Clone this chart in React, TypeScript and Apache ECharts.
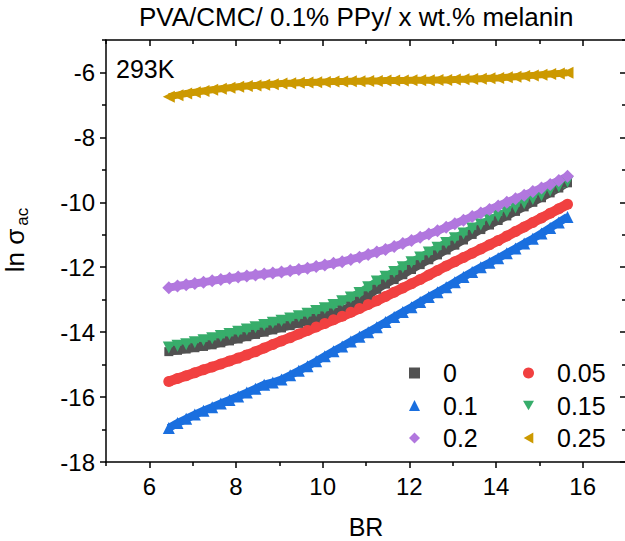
import React, { useEffect, useRef } from "react";
import * as echarts from "echarts";

const BR = [
  6.45, 6.65, 6.85, 7.05, 7.25, 7.45, 7.65, 7.85, 8.05, 8.25, 8.45, 8.65, 8.85, 9.05, 9.25, 9.45,
  9.65, 9.85, 10.05, 10.25, 10.45, 10.65, 10.85, 11.05, 11.25, 11.45, 11.65, 11.85, 12.05, 12.25,
  12.45, 12.65, 12.85, 13.05, 13.25, 13.45, 13.65, 13.85, 14.05, 14.25, 14.45, 14.65, 14.85, 15.05,
  15.25, 15.45, 15.65,
];

const LN_0 = [
  -14.6, -14.56, -14.52, -14.48, -14.44, -14.39, -14.33, -14.27, -14.21, -14.14, -14.07, -14.0,
  -13.93, -13.87, -13.8, -13.73, -13.66, -13.58, -13.5, -13.41, -13.32, -13.2, -13.05, -12.88,
  -12.68, -12.52, -12.38, -12.23, -12.07, -11.92, -11.77, -11.62, -11.47, -11.32, -11.16, -10.99,
  -10.84, -10.7, -10.56, -10.42, -10.28, -10.14, -10.0, -9.86, -9.71, -9.56, -9.4,
];
const LN_005 = [
  -15.52, -15.43, -15.34, -15.25, -15.16, -15.07, -14.98, -14.89, -14.8, -14.7, -14.6, -14.49,
  -14.38, -14.27, -14.17, -14.06, -13.95, -13.84, -13.73, -13.62, -13.51, -13.39, -13.27, -13.15,
  -13.03, -12.9, -12.77, -12.64, -12.51, -12.38, -12.24, -12.1, -11.96, -11.83, -11.7, -11.57,
  -11.44, -11.31, -11.18, -11.04, -10.9, -10.76, -10.62, -10.48, -10.34, -10.2, -10.06,
];
const LN_01 = [
  -16.95, -16.8, -16.67, -16.54, -16.42, -16.31, -16.2, -16.09, -15.98, -15.86, -15.74, -15.62,
  -15.55, -15.46, -15.33, -15.19, -15.05, -14.9, -14.74, -14.59, -14.44, -14.29, -14.14, -14.0,
  -13.85, -13.69, -13.53, -13.38, -13.23, -13.07, -12.92, -12.77, -12.62, -12.46, -12.3, -12.15,
  -12.0, -11.86, -11.72, -11.57, -11.42, -11.27, -11.12, -10.96, -10.79, -10.62, -10.45,
];
const LN_015 = [
  -14.47, -14.42, -14.37, -14.31, -14.25, -14.19, -14.12, -14.06, -13.99, -13.92, -13.85, -13.78,
  -13.71, -13.65, -13.58, -13.51, -13.43, -13.35, -13.26, -13.16, -13.05, -12.93, -12.79, -12.62,
  -12.44, -12.29, -12.15, -12.0, -11.85, -11.7, -11.55, -11.4, -11.25, -11.11, -10.96, -10.81,
  -10.68, -10.55, -10.42, -10.29, -10.16, -10.03, -9.9, -9.78, -9.64, -9.51, -9.37,
];
const LN_02 = [
  -12.63, -12.58, -12.54, -12.5, -12.46, -12.42, -12.38, -12.34, -12.3, -12.27, -12.24, -12.21,
  -12.18, -12.15, -12.11, -12.07, -12.03, -11.98, -11.93, -11.88, -11.83, -11.76, -11.69, -11.61,
  -11.53, -11.45, -11.36, -11.27, -11.18, -11.08, -10.98, -10.88, -10.77, -10.66, -10.55, -10.44,
  -10.33, -10.22, -10.11, -10.0, -9.89, -9.78, -9.67, -9.56, -9.45, -9.33, -9.2,
];
const LN_025 = [
  -6.75, -6.7, -6.65, -6.61, -6.57, -6.53, -6.5, -6.47, -6.44, -6.42, -6.4, -6.38, -6.36, -6.34,
  -6.33, -6.32, -6.31, -6.3, -6.29, -6.28, -6.28, -6.27, -6.27, -6.26, -6.26, -6.25, -6.25, -6.25,
  -6.24, -6.24, -6.24, -6.23, -6.23, -6.22, -6.21, -6.2, -6.19, -6.18, -6.17, -6.15, -6.13, -6.11,
  -6.09, -6.07, -6.05, -6.03, -6.01,
];

const SERIES_NAMES = ["0", "0.05", "0.1", "0.15", "0.2", "0.25"];
const X_MAJOR = [6, 8, 10, 12, 14, 16];
const X_MINOR = [5, 7, 9, 11, 13, 15, 17];
const Y_MAJOR = [-18, -16, -14, -12, -10, -8, -6];
const Y_MINOR = [-17, -15, -13, -11, -9, -7, -5];

const FONT = "'Liberation Sans', Arial, sans-serif";

const DOWN_TRI = "path://M0,0L10,0L5,8.7Z";
const LEFT_TRI = "path://M8.7,0L8.7,10L0,5Z";

export default function App() {
  const ref = useRef<HTMLDivElement>(null);

  useEffect(() => {
    document.body.style.margin = "0";
    if (!ref.current) return;
    const chart = echarts.init(ref.current, null, { renderer: "svg" });

    const axisLine = { color: "#000", width: 1.5 };
    const xBase = { type: "value", min: 5, max: 17, interval: 1, gridIndex: 0, splitLine: { show: false } };
    const yBase = { type: "value", min: -18, max: -5, interval: 1, gridIndex: 0, splitLine: { show: false } };

    const pts = (ys: number[]) => BR.map((x, i) => [x, ys[i]]);

    const specs = [
      { data: LN_0, color: "#515151", symbol: "rect", size: 9, rotate: 0, icon: "rect", lw: 8 },
      { data: LN_005, color: "#F14040", symbol: "circle", size: 11, rotate: 0, icon: "circle", lw: 10 },
      { data: LN_01, color: "#1A6FDF", symbol: "triangle", size: 12, rotate: 0, icon: "triangle", lw: 8 },
      { data: LN_015, color: "#37AD6B", symbol: "triangle", size: 12, rotate: 180, icon: DOWN_TRI, lw: 8 },
      { data: LN_02, color: "#B177DE", symbol: "diamond", size: 13, rotate: 0, icon: "diamond", lw: 8 },
      { data: LN_025, color: "#CC9900", symbol: "triangle", size: 12, rotate: 90, icon: LEFT_TRI, lw: 7 },
    ];

    const legendText = { fontSize: 25, color: "#000", fontFamily: FONT, padding: [0, 0, 0, 18], lineHeight: 28 };
    const legendBase = {
      orient: "vertical",
      top: 359,
      padding: 0,
      itemWidth: 11,
      itemHeight: 11,
      itemGap: 4.5,
      textStyle: legendText,
    };
    const legendItem = (i: number) => ({ name: SERIES_NAMES[i], icon: specs[i].icon });

    chart.setOption({
      animation: false,
      textStyle: { fontFamily: FONT },
      title: {
        text: "PVA/CMC/ 0.1% PPy/ x wt.% melanin",
        left: 139,
        top: 4,
        padding: 0,
        textStyle: { fontSize: 26, fontWeight: "normal", color: "#000", fontFamily: FONT },
      },
      grid: { left: 106, top: 40, width: 520, height: 422, containLabel: false, outerBoundsMode: "none" },
      xAxis: [
        {
          ...xBase,
          position: "bottom",
          axisLine: { show: true, onZero: false, lineStyle: axisLine },
          axisTick: { show: true, inside: false, length: 6, customValues: X_MAJOR, lineStyle: axisLine },
          axisLabel: { customValues: X_MAJOR, fontSize: 24, color: "#000", margin: 12, fontFamily: FONT },
          name: "BR",
          nameLocation: "middle",
          nameGap: 53,
          nameTextStyle: { fontSize: 25, lineHeight: 24, color: "#000", fontFamily: FONT },
        },
        {
          ...xBase,
          position: "bottom",
          axisLine: { show: false, onZero: false },
          axisTick: { show: true, inside: false, length: 4, customValues: X_MINOR, lineStyle: axisLine },
          axisLabel: { show: false },
        },
        {
          ...xBase,
          position: "top",
          axisLine: { show: true, onZero: false, lineStyle: axisLine },
          axisTick: { show: true, inside: true, length: 6, customValues: X_MAJOR, lineStyle: axisLine },
          axisLabel: { show: false },
        },
        {
          ...xBase,
          position: "top",
          axisLine: { show: false, onZero: false },
          axisTick: { show: true, inside: true, length: 4, customValues: X_MINOR, lineStyle: axisLine },
          axisLabel: { show: false },
        },
      ],
      yAxis: [
        {
          ...yBase,
          position: "left",
          axisLine: { show: true, onZero: false, lineStyle: axisLine },
          axisTick: { show: true, inside: false, length: 6, customValues: Y_MAJOR, lineStyle: axisLine },
          axisLabel: { customValues: Y_MAJOR, fontSize: 24, color: "#000", margin: 11, fontFamily: FONT },
          name: "{a|ln σ}{b|ac}",
          nameLocation: "middle",
          nameGap: 75,
          nameTextStyle: {
            color: "#000",
            fontFamily: FONT,
            padding: [0, 0, 0, 22],
            rich: {
              a: { fontSize: 26, lineHeight: 32, color: "#000", fontFamily: FONT },
              b: {
                fontSize: 17,
                lineHeight: 32,
                verticalAlign: "bottom",
                padding: [0, 0, 0, 3],
                color: "#000",
                fontFamily: FONT,
              },
            },
          },
        },
        {
          ...yBase,
          position: "left",
          axisLine: { show: false, onZero: false },
          axisTick: { show: true, inside: false, length: 4, customValues: Y_MINOR, lineStyle: axisLine },
          axisLabel: { show: false },
        },
        {
          ...yBase,
          position: "right",
          axisLine: { show: true, onZero: false, lineStyle: axisLine },
          axisTick: { show: true, inside: true, length: 6, customValues: Y_MAJOR, lineStyle: axisLine },
          axisLabel: { show: false },
        },
        {
          ...yBase,
          position: "right",
          axisLine: { show: false, onZero: false },
          axisTick: { show: true, inside: true, length: 4, customValues: Y_MINOR, lineStyle: axisLine },
          axisLabel: { show: false },
        },
      ],
      legend: [
        { ...legendBase, left: 409, data: [0, 2, 4].map(legendItem) },
        { ...legendBase, left: 523, data: [1, 3, 5].map(legendItem) },
      ],
      graphic: [
        {
          type: "text",
          left: 116,
          top: 56,
          style: { text: "293K", fontSize: 25, fill: "#000", fontFamily: FONT },
        },
      ],
      series: specs.map((s, i) => ({
        name: SERIES_NAMES[i],
        type: "line",
        xAxisIndex: 0,
        yAxisIndex: 0,
        symbol: s.symbol,
        symbolSize: s.size,
        symbolRotate: s.rotate,
        showSymbol: true,
        lineStyle: { color: s.color, width: s.lw },
        itemStyle: { color: s.color, opacity: 1 },
        emphasis: { disabled: true },
        data: pts(s.data),
      })),
    });

    return () => chart.dispose();
  }, []);

  return <div ref={ref} style={{ width: 625, height: 541 }} />;
}
